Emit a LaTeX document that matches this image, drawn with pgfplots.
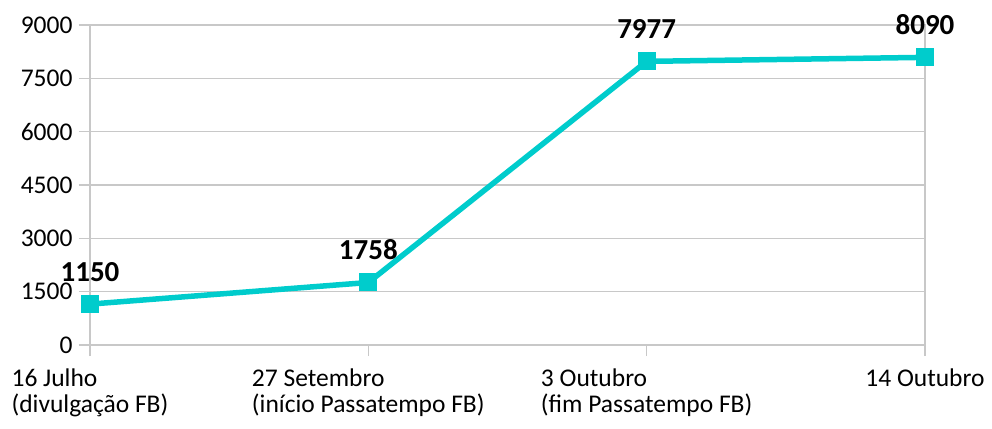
\documentclass[border=0pt]{standalone}
\usepackage{pgfplots}
\pgfplotsset{compat=1.18}
\usepackage{fontspec}
\setmainfont{Carlito}
\definecolor{turq}{RGB}{0,204,204}
\definecolor{gridgray}{RGB}{200,200,200}
\begin{document}
\begin{tikzpicture}
\begin{axis}[
  at={(0,0)}, anchor=south west,
  scale only axis, width=835pt, height=320pt,
  xmin=0, xmax=3, ymin=0, ymax=9000,
  xtick={0,1,2,3},
  xticklabels={{16 Julho\\(divulgação FB)},{27 Setembro\\(início Passatempo FB)},{3 Outubro\\(fim Passatempo FB)},{14 Outubro}},
  ytick={0,1500,3000,4500,6000,7500,9000},
  xtick pos=left, ytick pos=left,
  tick align=outside, major tick length=11pt,
  tick style={gridgray, line width=1.2pt},
  axis line style={gridgray, line width=1.2pt},
  ymajorgrids, grid style={gridgray, line width=1.2pt},
  /pgf/number format/assume math mode=true,
  /pgf/number format/1000 sep={},
  yticklabel style={font=\fontsize{25.5}{26}\selectfont, xshift=-3pt},
  xticklabel style={font=\fontsize{25.5}{26}\selectfont, align=left, yshift=-9pt},
  nodes near coords,
  every node near coord/.append style={font=\fontsize{29}{30}\bfseries\selectfont, anchor=base, yshift=23pt, black},
  clip=false,
]
\addplot[color=turq, line width=5.5pt, mark=square*, mark size=8.5pt, mark options={fill=turq, draw=turq, line width=0pt}]
  coordinates {(0,1150) (1,1758) (2,7977) (3,8090)};
\end{axis}
\pgfresetboundingbox
\path (-90pt,-83pt) rectangle (902pt,345pt);
\end{tikzpicture}
\end{document}
